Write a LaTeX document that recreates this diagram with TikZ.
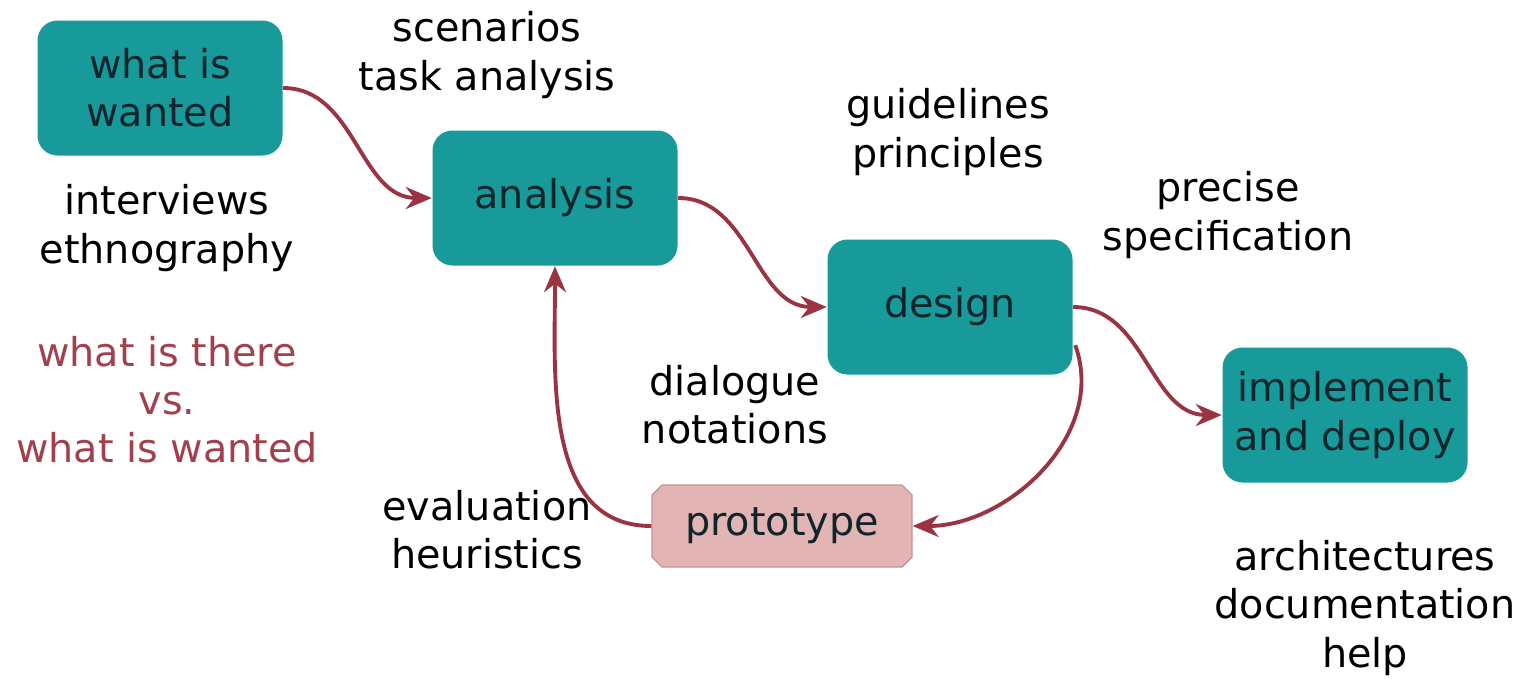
\documentclass[tikz,border=0pt]{standalone}
\usepackage{fontspec}
\setmainfont{DejaVu Sans}
\usepackage{xcolor}
\usetikzlibrary{arrows.meta, shapes.misc}
\definecolor{tealbox}{HTML}{18999A}
\definecolor{arrowred}{HTML}{9A3442}
\definecolor{protofill}{HTML}{E2B4B4}
\definecolor{protoline}{HTML}{C99494}
\definecolor{notered}{HTML}{A3404C}
\definecolor{boxtext}{HTML}{10242C}

\begin{document}
\begin{tikzpicture}[
    every node/.style={font=\fontsize{11.3}{13.7}\selectfont, align=center},
    stage/.style={fill=tealbox, rounded corners=0.2cm, minimum width=2.45cm,
        minimum height=1.35cm, text=boxtext},
    flow/.style={draw=arrowred, line width=1.1pt, -{Stealth[length=2.6mm,width=2.2mm]}},
    note/.style={text=black}
]
\useasboundingbox (0,0) rectangle (15.22,6.8);

% stages
\node[stage] (wanted) at (1.60,5.92) {what is\\wanted};
\node[stage] (analysis) at (5.55,4.82) {analysis};
\node[stage] (design) at (9.50,3.73) {design};
\node[stage] (implement) at (13.45,2.65) {implement\\and deploy};
\node[chamfered rectangle, chamfered rectangle xsep=0.05cm, chamfered rectangle ysep=0.05cm,
    fill=protofill, draw=protoline, minimum width=2.6cm, minimum height=0.82cm,
    text=boxtext] (prototype) at (7.82,1.54) {prototype};

% notes
\node[note] (scen) at (4.87,6.25) {scenarios\\task analysis};
\node[note] (interv) at (1.67,4.52) {interviews\\ethnography};
\node[note, text=notered] (vs) at (1.67,2.80) {what is there\\vs.\\what is wanted};
\node[note] (guide) at (9.48,5.48) {guidelines\\principles};
\node[note] (precise) at (12.28,4.65) {precise\\specification};
\node[note] (dialog) at (7.35,2.75) {dialogue\\notations};
\node[note] (eval) at (4.87,1.50) {evaluation\\heuristics};
\node[note] (arch) at (13.65,0.72) {architectures\\documentation\\help};

% connectors
\draw[flow] (wanted.east) to[out=0, in=180] (analysis.west);
\draw[flow] (analysis.east) to[out=0, in=180] (design.west);
\draw[flow] (design.east) to[out=0, in=180] (implement.west);
\draw[flow] (design.south east) ++(0.02,0.3) coordinate (dsout)
    (dsout) to[out=-70, in=0] (prototype.east);
\draw[flow] (prototype.west) to[out=180, in=-90] (analysis.south);
\end{tikzpicture}
\end{document}
